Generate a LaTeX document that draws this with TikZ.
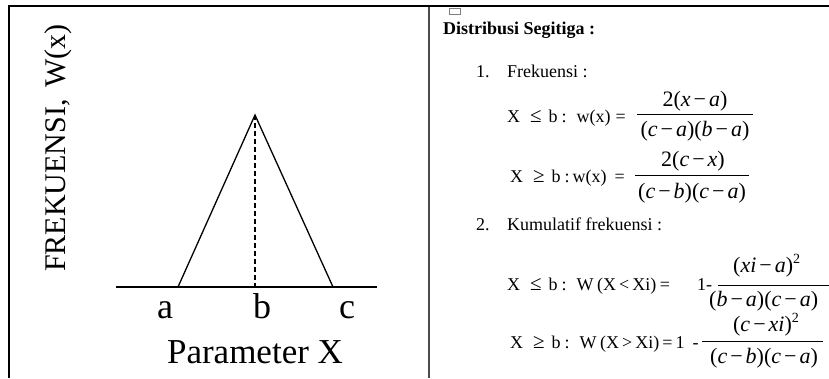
\documentclass[tikz,border=0pt]{standalone}
\usepackage{fontspec}
\setmainfont{Liberation Serif}
\newcommand\tf{\fontsize{18}{20}\selectfont}
\newcommand\mf{\fontsize{22}{24}\selectfont}
\newcommand\mv[1]{\textit{#1}}
\newcommand\mns{\hspace{3pt}−\hspace{3pt}}
\newcommand\sq{\raisebox{9pt}{\fontsize{14}{14}\selectfont 2}}
\newcommand\rel[1]{{\fontsize{21}{21}\selectfont #1}}
\begin{document}
\begin{tikzpicture}[x=1pt,y=-1pt,
  txt/.style={inner sep=0pt, anchor=base west, font=\tf},
  mth/.style={inner sep=0pt, anchor=base, font=\mf},
  mthw/.style={inner sep=0pt, anchor=base west, font=\mf},
  bar/.style={line width=0.9pt},
  frame/.style={line width=2pt},
  curve/.style={line width=1.3pt}]
\useasboundingbox (0,0) rectangle (829,378);
\clip (0,0) rectangle (829,378);
% frame
\coordinate (fbl) at (9,378);
\coordinate (ftl) at (9,6);
\coordinate (ftr) at (829,6);
\draw[frame] (fbl) -- (ftl) -- (ftr);
\coordinate (dt) at (429,7);
\coordinate (db) at (429,378);
\draw[gray!60!black, line width=1.2pt] (dt) -- (db);
\draw[gray, line width=0.6pt] (449,8) rectangle (460,14);
% left panel
\node[inner sep=0pt, rotate=90, anchor=base, font=\fontsize{30}{32}\selectfont] (ylab) at (65,148) {FREKUENSI,\hspace{12pt}W(x)};
\coordinate (L) at (116,287);
\coordinate (R) at (377,287);
\coordinate (A) at (178,287);
\coordinate (B) at (255,115);
\coordinate (C) at (333,287);
\coordinate (Bb) at (255,287);
\draw[line width=1.4pt] (L) -- (R);
\draw[curve, line join=miter] (A) -- (B) -- (C);
\draw[line width=1.1pt, dash pattern=on 5pt off 3pt] (B) -- (Bb);
\node[inner sep=0pt, anchor=base, font=\fontsize{36}{38}\selectfont] (la) at (165,318) {a};
\node[inner sep=0pt, anchor=base, font=\fontsize{36}{38}\selectfont] (lb) at (262,318) {b};
\node[inner sep=0pt, anchor=base, font=\fontsize{36}{38}\selectfont] (lc) at (347,318) {c};
\node[inner sep=0pt, anchor=base, font=\fontsize{35}{37}\selectfont] (px) at (255,363) {Parameter X};
% right panel
\node[txt, font=\tf\bfseries] (title) at (443,34) {Distribusi Segitiga :};
\node[txt] (n1) at (476,77) {1.};
\node[txt] (i1) at (507,77) {Frekuensi :};
% row 1
\node[txt] (r1) at (507,122) {X\hspace{10pt}\rel{≤}\hspace{7pt}b\hspace{4pt}:\hspace{10pt}w(x)\hspace{5pt}=};
\coordinate (b1l) at (637,114);
\coordinate (b1r) at (753,114);
\draw[bar] (b1l) -- (b1r);
\node[mth] (n1a) at (695,106) {2(\mv{x}\mns\mv{a})};
\node[mth] (d1a) at (695,136) {(\mv{c}\mns\mv{a})(\mv{b}\mns\mv{a})};
% row 2
\node[txt] (r2) at (510,182) {X\hspace{10pt}\rel{≥}\hspace{7pt}b\hspace{4pt}:\hspace{3pt}w(x)\hspace{8pt}=};
\coordinate (b2l) at (635,175);
\coordinate (b2r) at (749,175);
\draw[bar] (b2l) -- (b2r);
\node[mth] (n2a) at (693,166) {2(\mv{c}\mns\mv{x})};
\node[mth] (d2a) at (692,198) {(\mv{c}\mns\mv{b})(\mv{c}\mns\mv{a})};
% item 2
\node[txt] (n2) at (476,230) {2.};
\node[txt] (i2) at (507,230) {Kumulatif frekuensi :};
% row 3
\node[txt] (r3) at (507,290) {X\hspace{10pt}\rel{≤}\hspace{7pt}b\hspace{4pt}:\hspace{10pt}W\hspace{3.5pt}(X\hspace{3pt}<\hspace{3pt}Xi)\hspace{3.5pt}=};
\node[txt] (o3) at (697,290) {1-};
\coordinate (b3l) at (718,285);
\coordinate (b3r) at (835,285);
\draw[bar] (b3l) -- (b3r);
\node[mthw] (n3a) at (733,272) {(\mv{xi}\mns\mv{a})\sq};
\node[mthw] (d3a) at (709,306) {(\mv{b}\mns\mv{a})(\mv{c}\mns\mv{a})};
% row 4
\node[txt] (r4) at (510,348) {X\hspace{10pt}\rel{≥}\hspace{7pt}b\hspace{4pt}:\hspace{10pt}W\hspace{3.5pt}(X\hspace{3pt}>\hspace{3pt}Xi)\hspace{3pt}=\hspace{3pt}1\hspace{8pt}-};
\coordinate (b4l) at (702,341);
\coordinate (b4r) at (823,341);
\draw[bar] (b4l) -- (b4r);
\node[mth] (n4a) at (766,331) {(\mv{c}\mns\mv{xi})\sq};
\node[mth] (d4a) at (764,363) {(\mv{c}\mns\mv{b})(\mv{c}\mns\mv{a})};
\end{tikzpicture}
\end{document}
